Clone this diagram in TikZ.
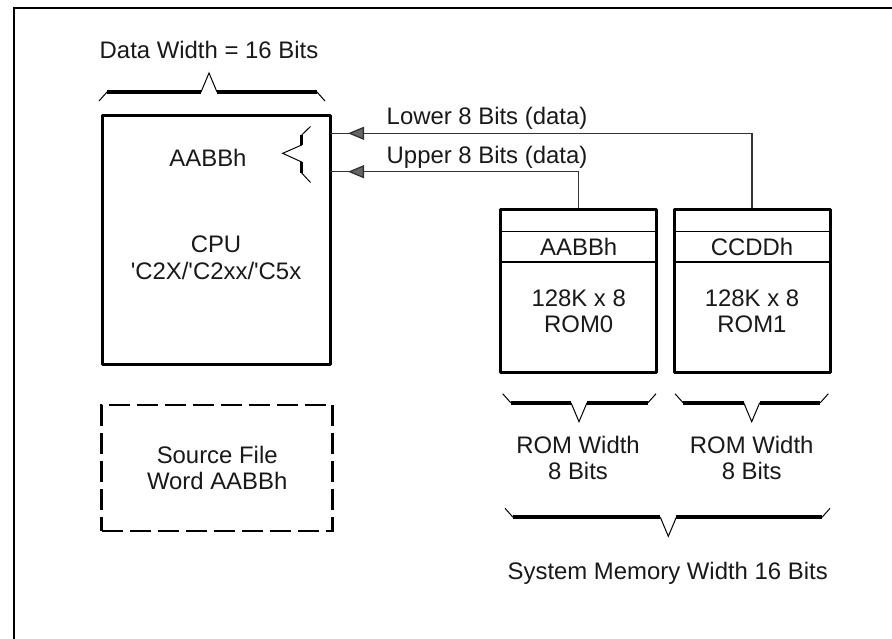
\documentclass[tikz,border=0pt]{standalone}
\usepackage{fontspec}
\setmainfont{Liberation Sans}
\usetikzlibrary{arrows.meta,decorations.markings}

\begin{document}
\begin{tikzpicture}[
  x=0.5pt,y=-0.5pt,
  every node/.style={font=\fontsize{11.95}{13.25}\selectfont,align=center,inner sep=0pt,
                     text=black!90},
  cpubox/.style={draw,line width=1.5pt,line join=round,minimum width=114pt,minimum height=124.5pt},
  rombox/.style={draw,line width=1.5pt,line join=round,minimum width=78pt,minimum height=81.5pt},
  romhdr/.style={minimum width=78pt,minimum height=15pt},
  srcbox/.style={draw,line width=1.25pt,dash pattern=on 10.5pt off 3.5pt,
                 minimum width=115.5pt,minimum height=63pt},
  divider/.style={line width=0.7pt},
  bus/.style={draw=black!80,line width=0.65pt,postaction={decorate},
              decoration={markings,mark=at position -9pt with
                {\arrow{Triangle[length=8pt,width=6.5pt,fill=black!60]}}}},
  thinline/.style={line width=0.5pt},
  thickline/.style={line width=2pt},
  forkline/.style={line width=1.4pt}
]
\useasboundingbox (0,0) rectangle (892,638);
\clip (0,0) rectangle (892,638);
\draw[line width=1pt] (13.5,700) |- (950,7.7);

\node (datatxt) at (209,50) {Data Width = 16 Bits};
\node[cpubox] (cpu) at (216,239.5) {};
\node (cpuword) at (208,158) {AABBh};
\node (cpuname) at (216,258) {CPU\\\textquotesingle C2X/\textquotesingle C2xx/\textquotesingle C5x};
\node[srcbox] (src) at (217.2,468) {Source File\\Word AABBh};

\node[rombox] (rom0) at (578.7,290.5) {};
\node[romhdr] (hdr0) at (578.7,246.7) {AABBh};
\node (rom0txt) at (578.7,311.5) {128K x 8\\ROM0};
\node[rombox] (rom1) at (752,290.5) {};
\node[romhdr] (hdr1) at (752,246.7) {CCDDh};
\node (rom1txt) at (752,311.5) {128K x 8\\ROM1};
\draw[divider] (hdr0.north west) -- (hdr0.north east) (hdr0.south west) -- (hdr0.south east);
\draw[divider] (hdr1.north west) -- (hdr1.north east) (hdr1.south west) -- (hdr1.south east);

\node (w0) at (578,458) {ROM Width\\8 Bits};
\node (w1) at (751.7,458) {ROM Width\\8 Bits};
\node (systxt) at (667.7,573) {System Memory Width 16 Bits};

\node (lowtxt) at (487,118) {Lower 8 Bits (data)};
\node (uptxt) at (487,157) {Upper 8 Bits (data)};
\coordinate (lowin) at (330,133.3);
\coordinate (upin) at (330,171.7);
\draw[bus] (rom1.north) |- (lowin);
\draw[bus] (rom0.north) |- (upin);

% split of the data word
\draw[thinline] (310.5,126.5) -- (301.7,135) (301.7,145) -- (282.7,153.3) -- (301.7,162)
  (301.7,173) -- (310.5,182.5);
\draw[forkline] (301.7,135) -- (301.7,145) (301.7,162) -- (301.7,173);

% width braces
\foreach \l/\r/\m/\y/\d in {99/325/209/92/-1,502.7/656/579/402.7/1,
                            675/828.3/751.7/402.7/1,505/830/668.3/517.3/1}{
  \draw[thinline] (\l,{\y-9*\d}) -- (\l+8,\y) (\m-8,\y) -- (\m,{\y+19*\d}) -- (\m+8,\y)
    (\r-8,\y) -- (\r,{\y-9*\d});
  \draw[thickline] (\l+8,\y) -- (\m-8,\y) (\m+8,\y) -- (\r-8,\y);
}
\end{tikzpicture}
\end{document}
